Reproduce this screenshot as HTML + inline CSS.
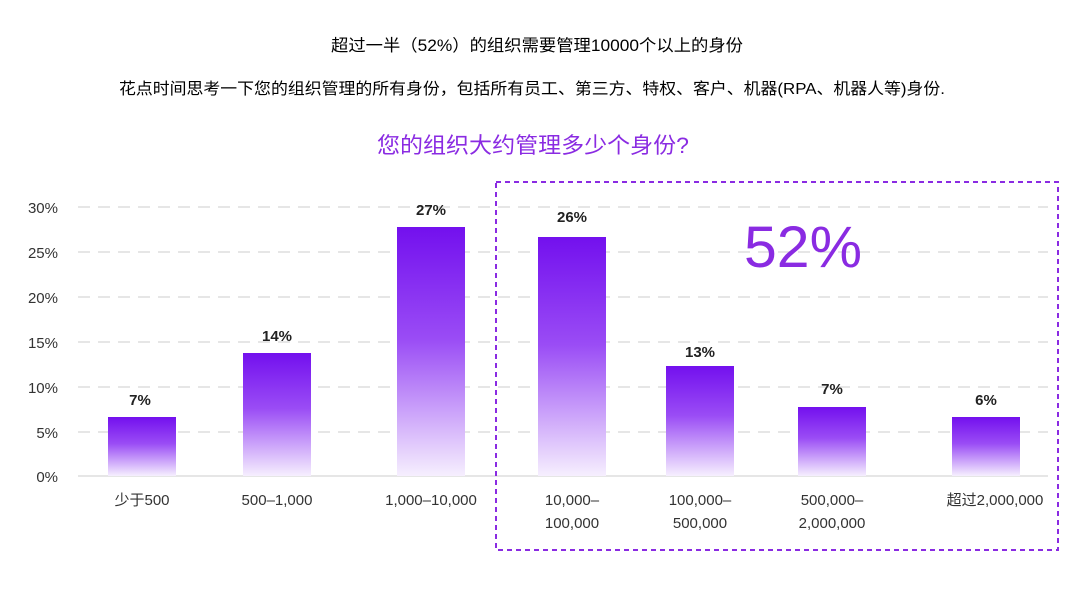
<!DOCTYPE html>
<html><head><meta charset="utf-8"><style>
body{margin:0;background:#fff;}
svg text{font-family:"Liberation Sans","Noto Sans CJK SC",sans-serif;}
</style></head><body>
<svg width="1070" height="596" xmlns="http://www.w3.org/2000/svg">
<defs>
<linearGradient id="g" x1="0" y1="0" x2="0" y2="1">
<stop offset="0" stop-color="#7310ee"/>
<stop offset="0.45" stop-color="#9a4cf5"/>
<stop offset="1" stop-color="#f6effe"/>
</linearGradient>
</defs>
<text x="537" y="51" font-size="16.5" text-anchor="middle" fill="#000" textLength="412" lengthAdjust="spacingAndGlyphs">超过一半（52%）的组织需要管理10000个以上的身份</text>
<text x="532" y="94" font-size="16" text-anchor="middle" fill="#000" textLength="826" lengthAdjust="spacingAndGlyphs">花点时间思考一下您的组织管理的所有身份，包括所有员工、第三方、特权、客户、机器(RPA、机器人等)身份.</text>
<text x="533" y="153" font-size="22" text-anchor="middle" fill="#8a2be2" textLength="312" lengthAdjust="spacingAndGlyphs">您的组织大约管理多少个身份?</text>
<g stroke="#ddd" stroke-width="1.5" stroke-dasharray="12,8">
<line x1="78" y1="207" x2="1048" y2="207"/>
<line x1="78" y1="252" x2="1048" y2="252"/>
<line x1="78" y1="297" x2="1048" y2="297"/>
<line x1="78" y1="342" x2="1048" y2="342"/>
<line x1="78" y1="387" x2="1048" y2="387"/>
<line x1="78" y1="432" x2="1048" y2="432"/>
</g>
<line x1="78" y1="476" x2="1048" y2="476" stroke="#ddd" stroke-width="1.5"/>
<g font-size="15" fill="#333" text-anchor="end">
<text x="58" y="213">30%</text><text x="58" y="258">25%</text><text x="58" y="303">20%</text>
<text x="58" y="348">15%</text><text x="58" y="393">10%</text><text x="58" y="438">5%</text><text x="58" y="482">0%</text>
</g>
<g fill="url(#g)">
<rect x="108" y="417" width="68" height="59"/>
<rect x="243" y="353" width="68" height="123"/>
<rect x="397" y="227" width="68" height="249"/>
<rect x="538" y="237" width="68" height="239"/>
<rect x="666" y="366" width="68" height="110"/>
<rect x="798" y="407" width="68" height="69"/>
<rect x="952" y="417" width="68" height="59"/>
</g>
<g font-size="15" fill="#222" text-anchor="middle" font-weight="bold">
<text x="140" y="405">7%</text><text x="277" y="341">14%</text><text x="431" y="215">27%</text>
<text x="572" y="222">26%</text><text x="700" y="357">13%</text><text x="832" y="394">7%</text><text x="986" y="405">6%</text>
</g>
<g font-size="15" fill="#333" text-anchor="middle">
<text x="142" y="505">少于500</text><text x="277" y="505">500–1,000</text><text x="431" y="505">1,000–10,000</text>
<text x="572" y="505">10,000–</text><text x="572" y="528">100,000</text>
<text x="700" y="505">100,000–</text><text x="700" y="528">500,000</text>
<text x="832" y="505">500,000–</text><text x="832" y="528">2,000,000</text>
<text x="995" y="505">超过2,000,000</text>
</g>
<rect x="496" y="182" width="562" height="368" fill="none" stroke="#8a2be2" stroke-width="2" stroke-dasharray="5,4"/>
<text x="803" y="267" font-size="58" fill="#8a2be2" text-anchor="middle" textLength="118" lengthAdjust="spacingAndGlyphs">52%</text>
</svg>
</body></html>
